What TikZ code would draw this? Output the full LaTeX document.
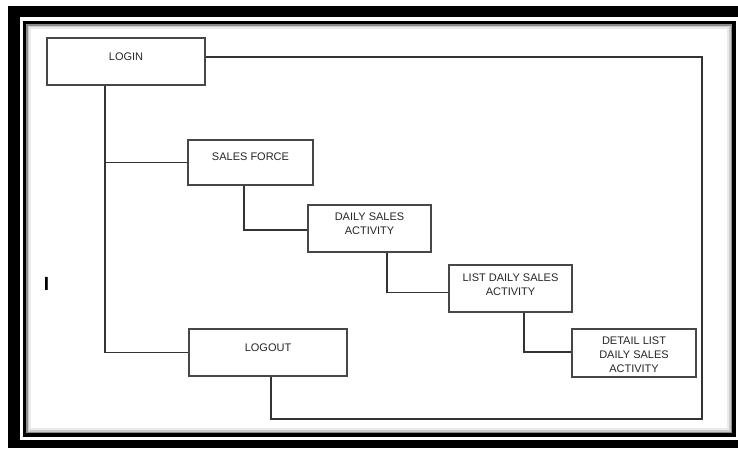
\documentclass[tikz,border=0pt]{standalone}
\usepackage{fontspec}
\setmainfont{Liberation Sans}
\begin{document}
\begin{tikzpicture}[x=1pt,y=-1pt,
  box/.style={draw=black!72, line width=1.6pt, fill=white, rectangle, inner sep=0pt},
  lbl/.style={font=\fontsize{11}{14}\selectfont, align=center, text=black!85, inner sep=0pt},
  conn/.style={draw=black!80, line width=1.6pt}]
\useasboundingbox (0,0) rectangle (738,448);
\fill[white] (0,0) rectangle (738,448);
% frame
\fill[black] (8,6) rectangle (738,448);
\fill[white] (20,17) rectangle (738,440);
\fill[black] (23,21) rectangle (736,437);
\fill[black!45] (26,24) rectangle (732,433);
\fill[black!20] (27.5,25.5) rectangle (730.5,431.5);
\fill[black!8] (29,27) rectangle (729,430);
\fill[white] (31,29) rectangle (727,428);
% stray mark
\node[font=\fontsize{19}{19}\selectfont\bfseries, inner sep=0pt] (mark) at (46.5,284) {I};
% boxes
\node[box, minimum width=158, minimum height=47,
  label={[lbl, yshift=4.5pt]center:LOGIN}] (login) at (126,61.5) {};
\node[box, minimum width=125, minimum height=45,
  label={[lbl, yshift=5.5pt]center:SALES FORCE}] (sales) at (250.5,162.5) {};
\node[box, minimum width=123, minimum height=47,
  label={[lbl, yshift=5pt]center:DAILY SALES\\ACTIVITY}] (daily) at (369.5,228.5) {};
\node[box, minimum width=123, minimum height=47,
  label={[lbl, yshift=4pt]center:LIST DAILY SALES\\ACTIVITY}] (list) at (510.5,288.5) {};
\node[box, minimum width=124, minimum height=48,
  label={[lbl, yshift=-1.5pt]center:DETAIL LIST\\DAILY SALES\\ACTIVITY}] (detail) at (634,353) {};
\node[box, minimum width=158, minimum height=47,
  label={[lbl, yshift=5pt]center:LOGOUT}] (logout) at (268,352.5) {};
% connectors
\coordinate (r1) at (702,57);
\coordinate (r2) at (702,419);
\coordinate (lo) at ([xshift=3pt]logout.south);
\draw[conn] (r1 -| login.east) -- (r1) -- (r2) -- (r2 -| lo) -- (lo);
\draw[conn] ([xshift=-21pt]login.south) |- (logout.west);
\draw[conn] ([xshift=-21pt]login.south |- sales.west) -- (sales.west);
\draw[conn] ([xshift=-6.5pt]sales.south) |- ([yshift=-1.5pt]daily.west);
\draw[conn] ([xshift=17.5pt]daily.south) |- ([yshift=-4pt]list.west);
\draw[conn] ([xshift=13.5pt]list.south) |- ([yshift=1pt]detail.west);
\end{tikzpicture}
\end{document}
